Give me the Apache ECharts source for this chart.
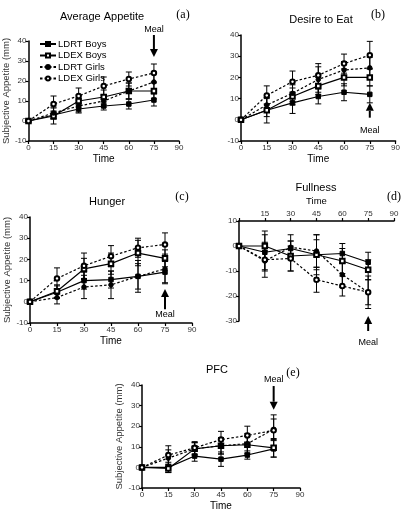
<!DOCTYPE html>
<html>
<head>
<meta charset="utf-8">
<script src="https://cdn.jsdelivr.net/npm/echarts@6/dist/echarts.min.js"></script>
<style>
html,body{margin:0;padding:0;background:#fff}
#main{width:403px;height:522px}
</style>
</head>
<body>
<div id="main"></div>
<script>
// time points (min) and groups
var times = [0, 15, 30, 45, 60, 75];
var groupNames = ['LDRT Boys', 'LDEX Boys', 'LDRT Girls', 'LDEX Girls'];

// (a) Average Appetite : mean / error, one row per group
var avgMean = [
  [0, 3, 6, 7.5, 8.5, 10.5],
  [0, 2.5, 10, 12, 15, 15],
  [0, 4, 7.5, 10, 15, 19.5],
  [0, 8.5, 12.5, 17.5, 21, 24]
];
var avgErr = [
  [0, 2, 2, 2, 2.5, 3],
  [0, 4, 3, 3.5, 4, 4],
  [0, 3, 3, 3, 4, 5],
  [0, 4, 4, 4.5, 3.5, 4.5]
];
// (b) Desire to Eat
var desireMean = [
  [0, 4.5, 8, 11, 13, 12],
  [0, 4.5, 11, 16, 20, 20],
  [0, 7, 12.5, 19, 23.5, 24.5],
  [0, 11.5, 18, 21, 26.5, 30.5]
];
var desireErr = [
  [0, 6, 5, 3.5, 4, 4],
  [0, 3, 4, 4, 4, 4],
  [0, 3, 4, 6, 4, 5],
  [0, 4.5, 5, 5.5, 4.5, 6.5]
];
// (c) Hunger
var hungerMean = [
  [0, 4.5, 10, 10.5, 12, 14],
  [0, 5, 15.5, 18, 23, 20.5],
  [0, 2, 7, 8, 12, 15.5],
  [0, 11, 17, 21.5, 25.5, 27]
];
var hungerErr = [
  [0, 3, 4, 4, 6, 5],
  [0, 3, 5, 5, 6, 4],
  [0, 3, 5.5, 6.5, 7.5, 7],
  [0, 5, 6, 5, 4.5, 5.5]
];
// (d) Fullness
var fullMean = [
  [0, -2.5, -1, -3.5, -3, -6.5],
  [0, 0, -4, -3.5, -6, -9.5],
  [0, -6, -0.5, -2, -11.5, -18.5],
  [0, -5.5, -5, -13.5, -16, -18.5]
];
var fullErr = [
  [0, 7, 3, 6, 4, 4],
  [0, 6, 6, 8, 5, 4],
  [0, 4, 5, 6.5, 5, 5],
  [0, 7, 5, 5, 4, 6.5]
];
// (e) PFC
var pfcMean = [
  [0, 0, 5.5, 4, 6, 9],
  [0, -0.5, 9, 10.5, 11, 9.5],
  [0, 4.5, 9, 10.5, 11.5, 18.5],
  [0, 6, 9.5, 13.5, 15.5, 18]
];
var pfcErr = [
  [0, 2.5, 2.5, 3.5, 2, 4],
  [0, 2, 3, 4, 4, 4.5],
  [0, 4, 3, 4, 5, 5],
  [0, 4.5, 3, 4, 4.5, 7.5]
];

var symbols = ['rect', 'emptyRect', 'circle', 'emptyCircle'];
var FONT = 'Liberation Sans';

// panel layout; arrow = [x, from, to, labelY] in data units
var panels = [
  {title: 'Average Appetite', tag: '(a)', mean: avgMean, err: avgErr,
   grid: {left: 26, top: 41, width: 153, height: 100}, ymin: -10, ymax: 40,
   yname: true, top: false, arrow: [75, 43, 32, 45.8],
   tx: 102, ty: 17, lx: 183, ly: 15},
  {title: 'Desire to Eat', tag: '(b)', mean: desireMean, err: desireErr,
   grid: {left: 241, top: 35, width: 160, height: 106}, ymin: -10, ymax: 40,
   yname: false, top: false, arrow: [75, 1, 8, -5],
   tx: 321, ty: 20, lx: 378, ly: 15},
  {title: 'Hunger', tag: '(c)', mean: hungerMean, err: hungerErr,
   grid: {left: 30, top: 217, width: 162, height: 106}, ymin: -10, ymax: 40,
   yname: true, top: false, arrow: [75, -3.5, 6, -5.8],
   tx: 107, ty: 202, lx: 182, ly: 197},
  {title: 'Fullness', tag: '(d)', mean: fullMean, err: fullErr,
   grid: {left: 239, top: 221, width: 155, height: 100}, ymin: -30, ymax: 10,
   yname: false, top: true, arrow: [75, -34, -28, -38.8],
   tx: 316, ty: 188, lx: 394, ly: 197},
  {title: 'PFC', tag: '(e)', mean: pfcMean, err: pfcErr,
   grid: {left: 142, top: 385, width: 158, height: 103}, ymin: -10, ymax: 40,
   yname: true, top: false, arrow: [75, 39.5, 28, 42.5],
   tx: 217, ty: 370, lx: 293, ly: 373}
];

var grids = [], xAxes = [], yAxes = [], series = [], graphics = [];

function errBarItem(params, api) {
  var x = api.value(0);
  var lo = api.coord([x, api.value(1)]);
  var hi = api.coord([x, api.value(2)]);
  var st = {stroke: '#000', lineWidth: 1};
  return {type: 'group', children: [
    {type: 'line', shape: {x1: lo[0], y1: lo[1], x2: hi[0], y2: hi[1]}, style: st},
    {type: 'line', shape: {x1: lo[0] - 3, y1: lo[1], x2: lo[0] + 3, y2: lo[1]}, style: st},
    {type: 'line', shape: {x1: hi[0] - 3, y1: hi[1], x2: hi[0] + 3, y2: hi[1]}, style: st}
  ]};
}

function arrowItem(params, api) {
  var x = api.value(0);
  var a = api.coord([x, api.value(1)]);
  var b = api.coord([x, api.value(2)]);
  var t = api.coord([x, api.value(3)]);
  var dir = b[1] > a[1] ? 1 : -1;
  var hl = 8, hw = 4;
  return {type: 'group', children: [
    {type: 'line', shape: {x1: a[0], y1: a[1], x2: b[0], y2: b[1] - dir * hl},
     style: {stroke: '#000', lineWidth: 2}},
    {type: 'polygon', shape: {points: [[b[0], b[1]], [b[0] - hw, b[1] - dir * hl], [b[0] + hw, b[1] - dir * hl]]},
     style: {fill: '#000'}},
    {type: 'text', x: t[0], y: t[1],
     style: {text: 'Meal', fill: '#000', font: '9px "' + FONT + '"', align: 'center', verticalAlign: 'middle'}}
  ]};
}

panels.forEach(function (p, pi) {
  grids.push(p.grid);
  xAxes.push({
    gridIndex: pi, type: 'value', min: 0, max: 90, interval: 15,
    position: p.top ? 'top' : 'bottom',
    name: 'Time', nameLocation: 'middle', nameGap: p.top ? 15 : 13,
    nameTextStyle: {fontFamily: FONT, fontSize: p.top ? 9.5 : 10, color: '#000'},
    axisLine: {onZero: false, lineStyle: {color: '#000', width: 1.5}},
    axisTick: {length: 3, lineStyle: {color: '#000', width: 1.2}},
    axisLabel: {fontFamily: FONT, fontSize: 8, color: '#333', margin: 3,
      formatter: function (v) { return (p.top && v === 0) ? '' : String(v); }},
    splitLine: {show: false}
  });
  yAxes.push({
    gridIndex: pi, type: 'value', min: p.ymin, max: p.ymax, interval: 10,
    name: p.yname ? 'Subjective Appetite (mm)' : '', nameLocation: 'middle', nameGap: 13,
    nameTextStyle: {fontFamily: FONT, fontSize: 9.5, color: '#333'},
    axisLine: {onZero: false, lineStyle: {color: '#000', width: 1.5}},
    axisTick: {length: 3, lineStyle: {color: '#000', width: 1.2}},
    axisLabel: {fontFamily: FONT, fontSize: 8, color: '#333', margin: 2},
    splitLine: {show: false}
  });

  groupNames.forEach(function (name, gi) {
    var m = p.mean[gi], e = p.err[gi];
    series.push({
      type: 'custom', xAxisIndex: pi, yAxisIndex: pi, silent: true, z: 1,
      renderItem: errBarItem, encode: {x: 0, y: [1, 2]},
      data: times.map(function (t, i) { return [t, m[i] - e[i], m[i] + e[i]]; })
        .filter(function (d, i) { return e[i] > 0; })
    });
    series.push({
      type: 'line', name: name, xAxisIndex: pi, yAxisIndex: pi, z: 3,
      symbol: symbols[gi], symbolSize: 4.5, showSymbol: true,
      lineStyle: {color: '#000', width: 1.2, type: gi < 2 ? 'solid' : [2.5, 2]},
      itemStyle: {color: '#000', borderColor: '#000', borderWidth: 1},
      data: times.map(function (t, i) { return [t, m[i]]; })
    });
  });

  series.push({
    type: 'custom', xAxisIndex: pi, yAxisIndex: pi, silent: true, clip: false, z: 5,
    renderItem: arrowItem, encode: {x: 0, y: [1, 2]}, data: [p.arrow]
  });

  graphics.push({type: 'text', x: p.tx, y: p.ty,
    style: {text: p.title, fill: '#000', font: '11px "' + FONT + '"', textAlign: 'center', textVerticalAlign: 'middle'}});
  graphics.push({type: 'text', x: p.lx, y: p.ly,
    style: {text: p.tag, fill: '#000', font: '12px "Liberation Serif"', textAlign: 'center', textVerticalAlign: 'middle'}});
});

var chart = echarts.init(document.getElementById('main'), null, {renderer: 'canvas'});
chart.setOption({
  backgroundColor: '#fff',
  animation: false,
  grid: grids,
  xAxis: xAxes,
  yAxis: yAxes,
  legend: {
    data: groupNames, orient: 'vertical', left: 34, top: 34,
    itemWidth: 16, itemHeight: 5, itemGap: 1.5,
    textStyle: {fontFamily: FONT, fontSize: 9.5, lineHeight: 10, color: '#000', padding: [0, 0, 0, -3]},
    selectedMode: false
  },
  graphic: graphics,
  series: series
});
</script>
</body>
</html>
